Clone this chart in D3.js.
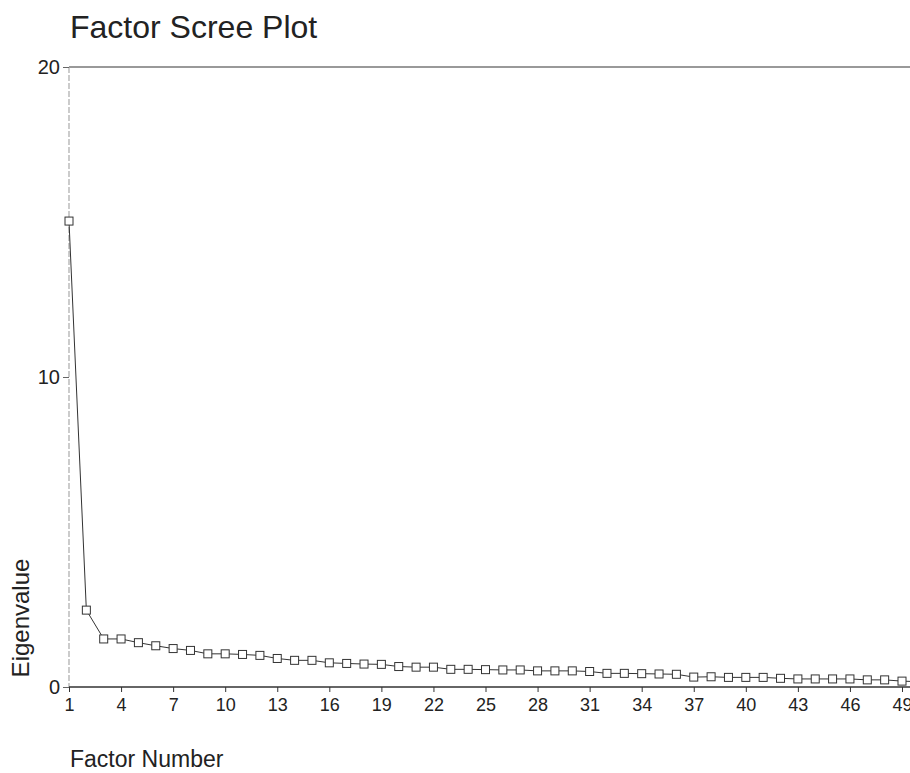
<!DOCTYPE html>
<html>
<head>
<meta charset="utf-8">
<script src="https://d3js.org/d3.v7.min.js"></script>
<style>
  body { margin: 0; background: #fff; }
  svg { display: block; }
  text { font-family: "Liberation Sans", Arial, sans-serif; fill: #222; }
</style>
</head>
<body>
<div id="chart"></div>
<script>
"use strict";

// Factor number and eigenvalue
var factors = d3.range(1, 51);
var eigenvalues = [15.03, 2.48, 1.55, 1.55, 1.43, 1.33, 1.24, 1.18, 1.07, 1.07,
                   1.05, 1.02, 0.92, 0.86, 0.86, 0.78, 0.76, 0.74, 0.73, 0.66,
                   0.64, 0.64, 0.57, 0.57, 0.56, 0.55, 0.55, 0.52, 0.52, 0.52,
                   0.50, 0.44, 0.44, 0.43, 0.42, 0.41, 0.32, 0.33, 0.31, 0.31,
                   0.31, 0.28, 0.26, 0.26, 0.26, 0.26, 0.23, 0.23, 0.19, 0.17];
var xTicks = [1, 4, 7, 10, 13, 16, 19, 22, 25, 28, 31, 34, 37, 40, 43, 46, 49];
var yTicks = [0, 10, 20];

var data = factors.map(function (f, i) {
  return { factor: f, value: eigenvalues[i] };
});

var width = 910, height = 773;

var svg = d3.select("#chart")
            .append("svg")
            .attr("width", width)
            .attr("height", height);

var xScale = d3.scaleLinear()
               .domain([1, 49])
               .range([69, 902]);

var yScale = d3.scaleLinear()
               .domain([0, 20])
               .range([687, 67]);

// title
svg.append("text")
   .attr("x", 70)
   .attr("y", 38)
   .style("font-size", "32px")
   .text("Factor Scree Plot");

// frame lines (top and left are light grey on the print)
svg.append("line")
   .attr("x1", xScale(1)).attr("x2", width)
   .attr("y1", yScale(20)).attr("y2", yScale(20))
   .attr("stroke", "#777")
   .attr("stroke-width", 1.5);

svg.append("line")
   .attr("x1", xScale(1)).attr("x2", xScale(1))
   .attr("y1", yScale(20)).attr("y2", yScale(0))
   .attr("stroke", "#aaa")
   .attr("stroke-width", 1.2)
   .attr("stroke-dasharray", "6,2");

// y axis
var yAxis = d3.axisLeft(yScale)
              .tickValues(yTicks)
              .tickSize(6)
              .tickPadding(3);

var yG = svg.append("g")
            .attr("transform", "translate(" + xScale(1) + ",0)")
            .call(yAxis);
yG.select(".domain").remove();
yG.selectAll(".tick line").attr("stroke", "#666");
yG.selectAll(".tick text")
  .style("font-size", "20px")
  .style("font-family", "Liberation Sans, Arial, sans-serif")
  .attr("fill", "#222");

// x axis
var xAxis = d3.axisBottom(xScale)
              .tickValues(xTicks)
              .tickSize(5)
              .tickPadding(6);

var xG = svg.append("g")
            .attr("transform", "translate(0," + yScale(0) + ")")
            .call(xAxis);
xG.select(".domain")
  .attr("d", "M" + xScale(1) + ",0H" + width)
  .attr("stroke", "#333")
  .attr("stroke-width", 1.3);
xG.selectAll(".tick line").attr("stroke", "#333");
xG.selectAll(".tick text")
  .style("font-size", "18px")
  .style("font-family", "Liberation Sans, Arial, sans-serif")
  .attr("fill", "#222");

// axis titles
svg.append("text")
   .attr("x", 70)
   .attr("y", 767)
   .style("font-size", "23px")
   .text("Factor Number");

svg.append("text")
   .attr("transform", "translate(29," + 618 + ") rotate(-90)")
   .attr("text-anchor", "middle")
   .style("font-size", "24px")
   .text("Eigenvalue");

// scree line
var line = d3.line()
             .x(function (d) { return xScale(d.factor); })
             .y(function (d) { return yScale(d.value); });

svg.append("path")
   .datum(data)
   .attr("d", line)
   .attr("fill", "none")
   .attr("stroke", "#333")
   .attr("stroke-width", 1);

// square markers
svg.selectAll(".marker")
   .data(data)
   .enter()
   .append("rect")
   .attr("class", "marker")
   .attr("x", function (d) { return xScale(d.factor) - 4; })
   .attr("y", function (d) { return yScale(d.value) - 4; })
   .attr("width", 8)
   .attr("height", 8)
   .attr("fill", "#fff")
   .attr("stroke", "#333")
   .attr("stroke-width", 1);
</script>
</body>
</html>
